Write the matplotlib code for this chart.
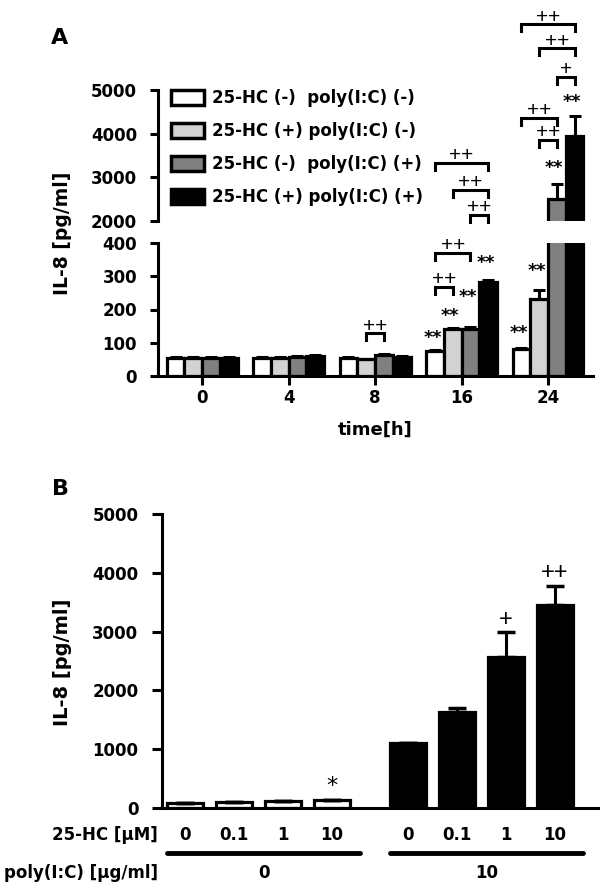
import matplotlib
matplotlib.use("Agg")
import matplotlib.pyplot as plt
import matplotlib.transforms as mtransforms
from matplotlib.patches import Patch
import numpy as np

plt.rcParams['font.family'] = 'DejaVu Sans'
plt.rcParams['font.weight'] = 'bold'

# ---- panel A: IL-8 over time
times = ["0", "4", "8", "16", "24"]
conditions = ["25-HC (-)  poly(I:C) (-)", "25-HC (+) poly(I:C) (-)",
              "25-HC (-)  poly(I:C) (+)", "25-HC (+) poly(I:C) (+)"]
hc0_pic0 = [54, 55, 55, 75, 80]
hc1_pic0 = [54, 55, 50, 140, 233]
hc0_pic1 = [54, 57, 62, 142, 2500]
hc1_pic1 = [54, 60, 57, 283, 3950]
err_hc0_pic0 = [2, 2, 2, 3, 3]
err_hc1_pic0 = [2, 2, 2, 3, 25]
err_hc0_pic1 = [2, 2, 3, 4, 350]
err_hc1_pic1 = [2, 3, 2, 6, 450]

# ---- panel B: 25-HC dose, with / without poly(I:C)
hc_doses = ["0", "0.1", "1", "10"]
pic_doses = ["0", "10"]
il8_pic0 = [80, 95, 115, 135]
err_pic0 = [4, 4, 5, 6]
il8_pic10 = [1110, 1630, 2560, 3450]
err_pic10 = [0, 70, 430, 330]

W, H = 600, 889
fig = plt.figure(figsize=(6, 8.89), dpi=100)


def fbox(x0, y0, x1, y1):
    return [x0 / W, 1 - y1 / H, (x1 - x0) / W, (y1 - y0) / H]


def per_px(ax):
    lo, hi = ax.get_ylim()
    return (hi - lo) / (ax.get_position().height * H)


ax_lo = fig.add_axes(fbox(158, 243, 593, 376))
ax_hi = fig.add_axes(fbox(158, 90, 593, 221))
ax_b = fig.add_axes(fbox(162, 514, 598, 808))

colors = ['white', '#d2d2d2', '#808080', 'black']
series = [hc0_pic0, hc1_pic0, hc0_pic1, hc1_pic1]
errs = [err_hc0_pic0, err_hc1_pic0, err_hc0_pic1, err_hc1_pic1]
x = np.arange(len(times))
bw = 0.205

for ax in (ax_lo, ax_hi):
    for i, (vals, err, c) in enumerate(zip(series, errs, colors)):
        ax.bar(x + (i - 1.5) * bw, vals, bw, color=c, edgecolor='black', linewidth=2.3,
               yerr=[np.zeros(len(err)), err],
               error_kw=dict(ecolor='black', elinewidth=2.2, capsize=4, capthick=2.2))
    ax.set_xlim(-0.51, 4.52)
    ax.spines[['top', 'right']].set_visible(False)
    ax.spines['left'].set_linewidth(2.2)
    ax.spines['bottom'].set_linewidth(2.2)
    ax.tick_params(axis='y', direction='out', length=6, width=2.2, pad=9, labelsize=12)

ax_lo.set_ylim(0, 400)
ax_lo.set_yticks([0, 100, 200, 300, 400])
ax_lo.set_xticks(x)
ax_lo.set_xticklabels(times)
ax_lo.tick_params(axis='x', direction='out', length=6.5, width=2.2, pad=3, labelsize=12)
ax_lo.set_xlabel("time[h]", fontsize=13, fontweight='bold', labelpad=10)

ax_hi.set_ylim(2000, 5000)
ax_hi.set_yticks([2000, 3000, 4000, 5000])
ax_hi.spines['bottom'].set_visible(False)
ax_hi.set_xticks([])

fig.text(63 / W, 1 - 233 / H, "IL-8 [pg/ml]", rotation=90, ha='center', va='center',
         fontsize=13.5, fontweight='bold')
fig.text(60 / W, 1 - 38 / H, "A", ha='center', va='center', fontsize=16, fontweight='bold')
fig.text(60 / W, 1 - 489 / H, "B", ha='center', va='center', fontsize=16, fontweight='bold')

handles = [Patch(facecolor=c, edgecolor='black', linewidth=2.5) for c in colors]
ax_hi.legend(handles, conditions, loc='upper left', bbox_to_anchor=(171 / W, 1 - 89 / H),
             bbox_transform=fig.transFigure, frameon=False,
             prop={'weight': 'bold', 'size': 12}, handlelength=2.0, handleheight=1.0,
             handletextpad=0.45, labelspacing=0.9, borderaxespad=0, borderpad=0)


def xc(g, i):
    return x[g] + (i - 1.5) * bw


def bracket(ax, g, i, j, y, label):
    u = per_px(ax)
    x1, x2 = xc(g, i), xc(g, j)
    ax.plot([x1, x1, x2, x2], [y - 7 * u, y, y, y - 7 * u], color='black', lw=2.2,
            clip_on=False, solid_joinstyle='miter')
    ax.text((x1 + x2) / 2, y + 7 * u, label, ha='center', va='center', fontsize=15,
            fontweight='normal', family='Liberation Sans', clip_on=False)


brackets_lo = [(2, 1, 2, 129, "++"), (3, 0, 2, 370, "++"), (3, 0, 1, 268, "++")]
brackets_hi = [(3, 0, 3, 3330, "++"), (3, 1, 3, 2710, "++"), (3, 2, 3, 2140, "++"),
               (4, 0, 3, 6510, "++"), (4, 1, 3, 5960, "++"), (4, 2, 3, 5300, "+"),
               (4, 0, 2, 4360, "++"), (4, 1, 2, 3855, "++")]
for b in brackets_lo:
    bracket(ax_lo, *b)
for b in brackets_hi:
    bracket(ax_hi, *b)

stars_lo = [(3, 0, 114), (3, 1, 180), (3, 2, 238), (3, 3, 340), (4, 0, 129), (4, 1, 316)]
stars_hi = [(4, 2, 3214), (4, 3, 4725)]
for ax, stars in ((ax_lo, stars_lo), (ax_hi, stars_hi)):
    for g, i, y in stars:
        ax.text(xc(g, i) - 0.03, y, "**", ha='center', va='center', fontsize=12.5,
                fontweight='bold', clip_on=False)

# ---- panel B
xb = np.concatenate([np.arange(4), np.arange(4) + 4.55])
bwb = 0.72
ax_b.bar(xb[:4], il8_pic0, bwb, color='white', edgecolor='black', linewidth=2.3,
         yerr=[np.zeros(4), err_pic0],
         error_kw=dict(ecolor='black', elinewidth=2.2, capsize=6.5, capthick=2.5))
ax_b.bar(xb[4:], il8_pic10, bwb, color='black', edgecolor='black', linewidth=2.3,
         yerr=[np.zeros(4), err_pic10],
         error_kw=dict(ecolor='black', elinewidth=2.2, capsize=6.5, capthick=2.5))
ax_b.set_xlim(-0.47, 8.43)
ax_b.set_ylim(0, 5000)
ax_b.set_yticks([0, 1000, 2000, 3000, 4000, 5000])
ax_b.set_xticks(xb)
ax_b.set_xticklabels(hc_doses + hc_doses)
ax_b.spines[['top', 'right']].set_visible(False)
ax_b.spines['left'].set_linewidth(2.2)
ax_b.spines['bottom'].set_linewidth(2.2)
ax_b.tick_params(axis='y', direction='out', length=7, width=2.2, pad=10, labelsize=12)
ax_b.tick_params(axis='x', length=0, pad=13, labelsize=12)
fig.text(63 / W, 1 - 662 / H, "IL-8 [pg/ml]", rotation=90, ha='center', va='center',
         fontsize=14, fontweight='bold')

ax_b.text(xb[3], 370, "*", ha='center', va='center', fontsize=16, fontweight='normal')
ax_b.text(xb[6], 3200, "+", ha='center', va='center', fontsize=17, fontweight='normal',
          family='Liberation Sans')
ax_b.text(xb[7], 4000, "++", ha='center', va='center', fontsize=17, fontweight='normal',
          family='Liberation Sans')

fig.text(158 / W, 1 - 835 / H, "25-HC [\u03bcM]", ha='right', va='center', fontsize=12,
         fontweight='bold')
fig.text(158 / W, 1 - 873 / H, "poly(I:C) [\u03bcg/ml]", ha='right', va='center',
         fontsize=12, fontweight='bold')

tr = mtransforms.blended_transform_factory(ax_b.transData, ax_b.transAxes)
for k, lab in enumerate(pic_doses):
    first, last = xb[4 * k], xb[4 * k + 3]
    ax_b.plot([first - 0.37, last + 0.58], [-0.153, -0.153], transform=tr, color='black',
              lw=3.5, solid_capstyle='round', clip_on=False)
    ax_b.text((first - 0.37 + last + 0.58) / 2, -0.221, lab, transform=tr, ha='center',
              va='center', fontsize=12, fontweight='bold')

fig.savefig("out.png", dpi=100)
